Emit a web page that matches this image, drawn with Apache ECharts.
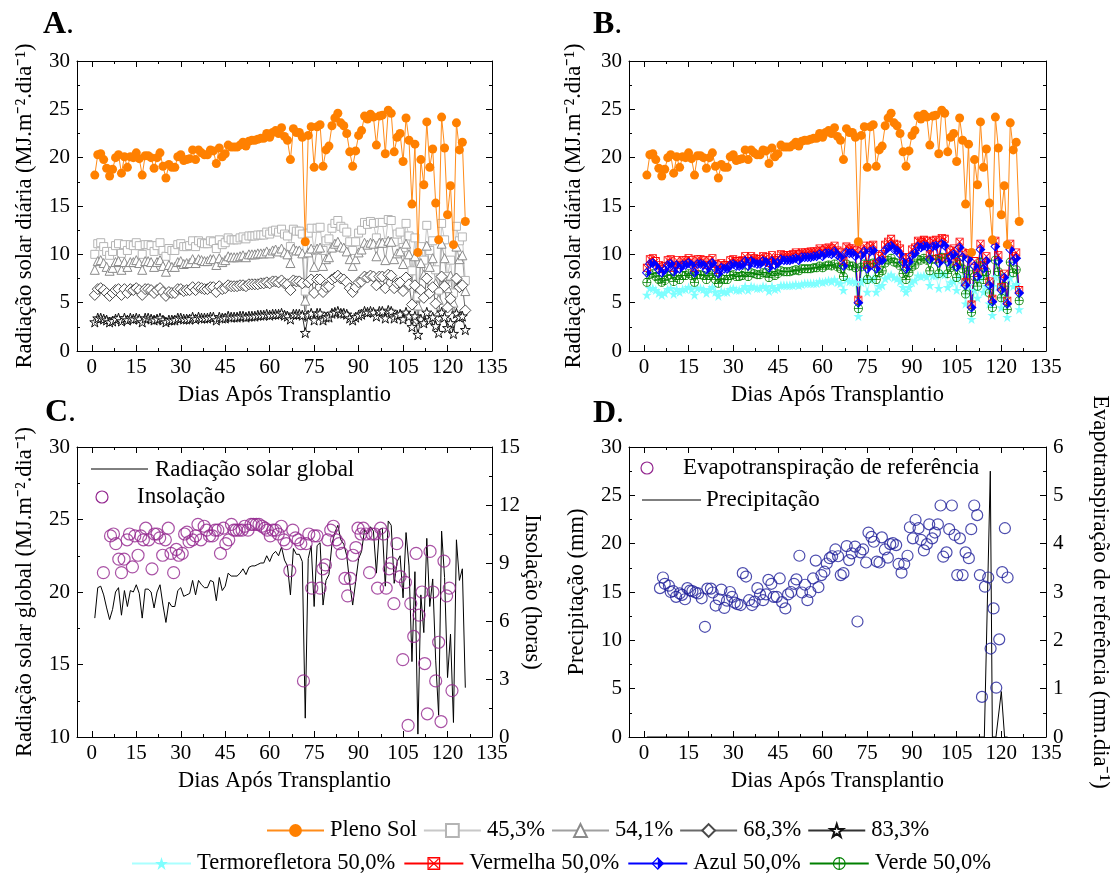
<!DOCTYPE html>
<html><head><meta charset="utf-8">
<script src="https://cdn.jsdelivr.net/npm/echarts@6/dist/echarts.min.js"></script>
<style>html,body{margin:0;padding:0;background:#fff}#c{width:1112px;height:876px}</style>
</head><body><div id="c"></div>
<script>
const days = [1,2,3,4,5,6,7,8,9,10,11,12,13,14,15,16,17,18,19,20,21,22,23,24,25,26,27,28,29,30,31,32,33,34,35,36,37,38,39,40,41,42,43,44,45,46,47,48,49,50,51,52,53,54,55,56,57,58,59,60,61,62,63,64,65,66,67,68,69,70,71,72,73,74,75,76,77,78,79,80,81,82,83,84,85,86,87,88,89,90,91,92,93,94,95,96,97,98,99,100,101,102,103,104,105,106,107,108,109,110,111,112,113,114,115,116,117,118,119,120,121,122,123,124,125,126];
const plenoSol = [18.2,20.3,20.4,19.8,18.9,18.1,18.8,20.0,20.3,18.4,20.1,19.0,20.1,20.0,20.5,19.9,18.2,20.2,20.2,20.0,18.9,20.0,20.5,19.1,17.9,19.3,19.0,19.0,20.1,20.3,19.7,19.8,19.9,20.8,19.8,20.8,20.5,20.3,20.3,20.8,20.7,19.4,21.0,20.1,20.4,21.3,21.1,21.1,21.1,21.3,21.6,21.2,21.7,21.8,21.8,21.9,22.0,22.0,22.5,22.1,22.6,22.8,22.5,23.1,22.2,21.8,19.8,23.0,22.6,22.6,22.1,11.3,22.3,23.2,19.0,23.2,23.4,19.1,20.8,21.2,23.3,24.1,24.6,23.6,23.3,22.5,20.6,19.1,20.7,22.3,22.8,24.3,24.0,24.5,24.2,21.3,24.3,24.4,20.4,24.9,24.6,20.6,22.1,22.5,19.6,24.1,21.8,15.2,21.4,10.2,19.8,17.2,23.7,19.0,20.9,15.3,11.5,24.2,21.0,14.1,17.1,11.0,23.6,20.8,21.6,13.4];
const s453 = [10.0,11.1,11.2,10.8,10.3,9.9,10.3,10.9,11.1,10.1,11.0,10.4,11.0,10.9,11.2,10.9,10.0,11.0,11.0,10.9,10.3,10.9,11.2,10.4,9.8,10.6,10.4,10.4,11.0,11.1,10.8,10.8,10.9,11.4,10.8,11.4,11.2,11.1,11.1,11.4,11.3,10.6,11.5,11.0,11.2,11.7,11.5,11.5,11.5,11.7,11.8,11.6,11.9,11.9,11.9,12.0,12.0,12.0,12.3,12.1,12.4,12.5,12.3,12.6,12.1,11.9,10.8,12.6,12.4,12.4,12.1,6.2,12.2,12.7,10.4,12.7,12.8,10.4,11.4,11.6,12.7,13.2,13.5,12.9,12.7,12.3,11.3,10.4,11.3,12.2,12.5,13.3,13.1,13.4,13.2,11.7,13.3,13.3,11.2,13.6,13.5,11.3,12.1,12.3,10.7,13.2,11.9,8.3,11.7,5.6,10.8,9.4,13.0,10.4,11.4,8.4,6.3,13.2,11.5,7.7,9.4,6.0,12.9,11.4,11.8,7.3];
const s541 = [8.4,9.3,9.4,9.1,8.7,8.3,8.6,9.2,9.3,8.4,9.2,8.7,9.2,9.2,9.4,9.1,8.4,9.3,9.3,9.2,8.7,9.2,9.4,8.8,8.2,8.9,8.7,8.7,9.2,9.3,9.0,9.1,9.1,9.5,9.1,9.5,9.4,9.3,9.3,9.5,9.5,8.9,9.6,9.2,9.4,9.8,9.7,9.7,9.7,9.8,9.9,9.7,10.0,10.0,10.0,10.1,10.1,10.1,10.3,10.1,10.4,10.5,10.3,10.6,10.2,10.0,9.1,10.6,10.4,10.4,10.1,5.2,10.2,10.6,8.7,10.6,10.7,8.8,9.5,9.7,10.7,11.1,11.3,10.8,10.7,10.3,9.5,8.8,9.5,10.2,10.5,11.2,11.0,11.2,11.1,9.8,11.2,11.2,9.4,11.4,11.3,9.5,10.1,10.3,9.0,11.1,10.0,7.0,9.8,4.7,9.1,7.9,10.9,8.7,9.6,7.0,5.3,11.1,9.6,6.5,7.8,5.0,10.8,9.5,9.9,6.2];
const s683 = [5.8,6.4,6.5,6.3,6.0,5.7,6.0,6.3,6.4,5.8,6.4,6.0,6.4,6.3,6.5,6.3,5.8,6.4,6.4,6.3,6.0,6.3,6.5,6.1,5.7,6.1,6.0,6.0,6.4,6.4,6.2,6.3,6.3,6.6,6.3,6.6,6.5,6.4,6.4,6.6,6.6,6.1,6.7,6.4,6.5,6.8,6.7,6.7,6.7,6.8,6.8,6.7,6.9,6.9,6.9,6.9,7.0,7.0,7.1,7.0,7.2,7.2,7.1,7.3,7.0,6.9,6.3,7.3,7.2,7.2,7.0,3.6,7.1,7.4,6.0,7.4,7.4,6.1,6.6,6.7,7.4,7.6,7.8,7.5,7.4,7.1,6.5,6.1,6.6,7.1,7.2,7.7,7.6,7.8,7.7,6.8,7.7,7.7,6.5,7.9,7.8,6.5,7.0,7.1,6.2,7.6,6.9,4.8,6.8,3.2,6.3,5.5,7.5,6.0,6.6,4.9,3.6,7.7,6.7,4.5,5.4,3.5,7.5,6.6,6.8,4.2];
const s833 = [3.0,3.4,3.4,3.3,3.2,3.0,3.1,3.3,3.4,3.1,3.4,3.2,3.4,3.3,3.4,3.3,3.0,3.4,3.4,3.3,3.2,3.3,3.4,3.2,3.0,3.2,3.2,3.2,3.4,3.4,3.3,3.3,3.3,3.5,3.3,3.5,3.4,3.4,3.4,3.5,3.5,3.2,3.5,3.4,3.4,3.6,3.5,3.5,3.5,3.6,3.6,3.5,3.6,3.6,3.6,3.7,3.7,3.7,3.8,3.7,3.8,3.8,3.8,3.9,3.7,3.6,3.3,3.8,3.8,3.8,3.7,1.9,3.7,3.9,3.2,3.9,3.9,3.2,3.5,3.5,3.9,4.0,4.1,3.9,3.9,3.8,3.4,3.2,3.5,3.7,3.8,4.1,4.0,4.1,4.0,3.6,4.1,4.1,3.4,4.2,4.1,3.4,3.7,3.8,3.3,4.0,3.6,2.5,3.6,1.7,3.3,2.9,4.0,3.2,3.5,2.6,1.9,4.0,3.5,2.4,2.9,1.8,3.9,3.5,3.6,2.2];
const termo = [5.8,6.5,6.5,6.3,6.0,5.8,6.0,6.4,6.5,5.9,6.4,6.1,6.4,6.4,6.6,6.4,5.8,6.5,6.5,6.4,6.0,6.4,6.6,6.1,5.7,6.2,6.1,6.1,6.4,6.5,6.3,6.3,6.4,6.7,6.3,6.7,6.6,6.5,6.5,6.7,6.6,6.2,6.7,6.4,6.5,6.8,6.8,6.8,6.8,6.8,6.9,6.8,6.9,7.0,7.0,7.0,7.0,7.0,7.2,7.1,7.2,7.3,7.2,7.4,7.1,7.0,6.3,7.4,7.2,7.2,7.1,3.6,7.1,7.4,6.1,7.4,7.5,6.1,6.7,6.8,7.5,7.7,7.9,7.6,7.5,7.2,6.6,6.1,6.6,7.1,7.3,7.8,7.7,7.8,7.7,6.8,7.8,7.8,6.5,8.0,7.9,6.6,7.1,7.2,6.3,7.7,7.0,4.9,6.8,3.3,6.3,5.5,7.6,6.1,6.7,4.9,3.7,7.7,6.7,4.5,5.5,3.5,7.6,6.7,6.9,4.3];
const vermelha = [8.6,9.5,9.6,9.3,8.9,8.5,8.8,9.4,9.5,8.6,9.4,8.9,9.4,9.4,9.6,9.4,8.6,9.5,9.5,9.4,8.9,9.4,9.6,9.0,8.4,9.1,8.9,8.9,9.4,9.5,9.3,9.3,9.4,9.8,9.3,9.8,9.6,9.5,9.5,9.8,9.7,9.1,9.9,9.4,9.6,10.0,9.9,9.9,9.9,10.0,10.2,10.0,10.2,10.2,10.2,10.3,10.3,10.3,10.6,10.4,10.6,10.7,10.6,10.9,10.4,10.2,9.3,10.8,10.6,10.6,10.4,5.3,10.5,10.9,8.9,10.9,11.0,9.0,9.8,10.0,11.0,11.3,11.6,11.1,11.0,10.6,9.7,9.0,9.7,10.5,10.7,11.4,11.3,11.5,11.4,10.0,11.4,11.5,9.6,11.7,11.6,9.7,10.4,10.6,9.2,11.3,10.2,7.1,10.1,4.8,9.3,8.1,11.1,8.9,9.8,7.2,5.4,11.4,9.9,6.6,8.0,5.2,11.1,9.8,10.2,6.3];
const azul = [8.1,9.0,9.1,8.8,8.4,8.1,8.4,8.9,9.0,8.2,8.9,8.5,8.9,8.9,9.1,8.9,8.1,9.0,9.0,8.9,8.4,8.9,9.1,8.5,8.0,8.6,8.5,8.5,8.9,9.0,8.8,8.8,8.9,9.3,8.8,9.3,9.1,9.0,9.0,9.3,9.2,8.6,9.3,8.9,9.1,9.5,9.4,9.4,9.4,9.5,9.6,9.4,9.7,9.7,9.7,9.7,9.8,9.8,10.0,9.8,10.1,10.1,10.0,10.3,9.9,9.7,8.8,10.2,10.1,10.1,9.8,5.0,9.9,10.3,8.5,10.3,10.4,8.5,9.3,9.4,10.4,10.7,10.9,10.5,10.4,10.0,9.2,8.5,9.2,9.9,10.1,10.8,10.7,10.9,10.8,9.5,10.8,10.9,9.1,11.1,10.9,9.2,9.8,10.0,8.7,10.7,9.7,6.8,9.5,4.5,8.8,7.7,10.5,8.5,9.3,6.8,5.1,10.8,9.3,6.3,7.6,4.9,10.5,9.3,9.6,6.0];
const verde = [7.1,7.9,8.0,7.7,7.4,7.1,7.3,7.8,7.9,7.2,7.8,7.4,7.8,7.8,8.0,7.8,7.1,7.9,7.9,7.8,7.4,7.8,8.0,7.4,7.0,7.5,7.4,7.4,7.8,7.9,7.7,7.7,7.8,8.1,7.7,8.1,8.0,7.9,7.9,8.1,8.1,7.6,8.2,7.8,8.0,8.3,8.2,8.2,8.2,8.3,8.4,8.3,8.5,8.5,8.5,8.5,8.6,8.6,8.8,8.6,8.8,8.9,8.8,9.0,8.7,8.5,7.7,9.0,8.8,8.8,8.6,4.4,8.7,9.0,7.4,9.0,9.1,7.4,8.1,8.3,9.1,9.4,9.6,9.2,9.1,8.8,8.0,7.4,8.1,8.7,8.9,9.5,9.4,9.6,9.4,8.3,9.5,9.5,8.0,9.7,9.6,8.0,8.6,8.8,7.6,9.4,8.5,5.9,8.3,4.0,7.7,6.7,9.2,7.4,8.2,6.0,4.5,9.4,8.2,5.5,6.7,4.3,9.2,8.1,8.4,5.2];
const insolDays = [3.9,6.3,7.3,8.1,9.1,10.0,10.9,11.9,12.7,13.7,14.5,15.6,16.5,17.4,18.2,19.2,20.3,21.1,22.0,22.9,23.9,24.8,25.8,26.7,27.6,28.5,29.3,30.5,31.3,32.1,32.8,34.0,35.0,35.8,36.8,37.9,38.7,39.7,40.7,41.6,42.5,43.4,44.4,45.2,46.2,47.1,47.9,48.7,49.7,50.7,51.6,52.7,53.7,54.5,55.5,56.4,57.4,58.4,59.2,60.2,61.1,62.0,62.9,63.9,64.8,65.6,66.8,67.8,68.7,69.6,70.5,71.4,72.3,73.2,74.2,75.0,76.0,77.0,77.9,78.8,79.6,80.6,81.5,82.5,83.4,84.4,85.4,86.3,87.2,88.1,89.1,89.8,90.8,91.6,92.5,93.7,94.5,95.5,96.4,97.4,98.4,99.3,100.3,101.1,101.9,102.9,104.0,104.9,105.8,106.7,107.6,108.6,109.4,110.4,111.4,112.3,113.2,114.1,115.1,116.0,117.0,117.8,118.8,119.7,120.6,121.5];
const insolacao = [8.5,10.4,10.5,10.0,9.2,8.5,9.2,10.2,10.5,8.8,10.4,9.4,10.4,10.2,10.8,10.2,8.7,10.5,10.5,10.3,9.4,10.2,10.8,9.5,8.5,9.7,9.4,9.5,10.5,10.6,10.1,10.2,10.4,11.0,10.2,10.9,10.7,10.4,10.4,10.7,10.7,9.5,10.8,10.0,10.2,11.0,10.7,10.7,10.7,10.7,10.9,10.7,11.0,11.0,11.0,11.0,10.9,10.8,10.7,10.4,10.7,10.7,10.5,10.9,10.2,10.0,8.6,10.7,10.3,10.2,10.0,2.9,10.0,10.5,7.7,10.4,10.4,7.7,8.7,8.9,10.2,10.7,10.9,10.2,10.0,9.5,8.2,7.3,8.2,9.4,9.8,10.8,10.5,10.8,10.5,8.5,10.5,10.5,7.7,10.8,10.5,7.7,8.7,9.0,6.9,10.0,8.3,4.0,8.0,0.6,6.9,5.2,9.5,6.3,7.5,3.8,1.2,9.6,7.5,2.9,4.9,0.8,9.1,7.3,7.7,2.4];
const etDays = [5.4,6.4,7.0,8.4,9.0,9.8,10.8,12.0,12.8,13.8,14.6,15.5,16.3,17.3,18.2,19.4,20.5,21.3,22.5,23.1,24.1,25.2,26.0,27.0,27.9,28.9,29.6,30.5,31.4,32.5,33.2,34.3,35.3,36.3,37.2,38.1,39.0,40.0,41.0,41.8,42.8,43.6,44.6,45.6,46.4,47.5,48.4,49.4,50.4,51.2,52.2,53.1,54.1,54.9,55.9,56.8,57.7,58.6,59.6,60.6,61.4,62.4,63.2,64.3,65.2,66.1,67.0,68.1,68.9,69.8,70.9,71.7,72.7,73.6,74.6,75.4,76.4,77.2,78.2,79.1,79.9,80.9,81.9,82.7,83.6,84.7,85.5,86.5,87.4,88.5,89.3,90.3,91.2,92.2,93.0,94.0,95.0,95.8,96.8,97.7,98.7,99.6,100.5,101.6,102.5,103.4,104.3,105.2,106.1,107.0,108.0,109.1,109.9,110.9,111.9,112.8,113.5,114.5,115.6,116.4,117.4,118.3,119.3,120.3,121.2,122.1];
const et0 = [3.08,3.30,3.17,3.13,3.00,3.02,2.90,2.97,2.94,2.85,3.08,3.03,3.02,2.99,2.97,2.87,2.28,3.07,3.07,2.99,2.72,2.85,3.05,2.67,2.82,3.00,2.90,2.78,2.75,2.73,3.39,3.32,2.83,2.73,2.80,3.08,2.95,2.83,2.95,3.25,3.17,2.90,2.90,3.28,2.79,2.66,2.95,3.00,3.17,3.26,3.75,2.99,3.15,2.83,3.00,3.28,3.65,3.10,3.35,3.42,3.59,3.70,3.74,3.88,3.74,3.35,3.39,3.95,3.66,3.80,3.94,2.39,3.82,3.88,3.61,4.23,4.14,4.04,3.63,3.61,4.13,3.88,3.71,3.99,4.01,3.97,3.58,3.40,3.58,3.75,4.34,4.11,4.49,4.32,4.08,3.86,3.99,4.40,4.11,4.23,4.40,4.79,3.73,3.82,4.30,4.79,4.18,3.35,4.11,3.35,3.82,3.70,4.30,4.79,4.59,3.35,0.83,3.11,3.30,1.83,2.66,1.02,2.02,3.41,4.32,3.30];
const precDays = [1,114.3,116.3,117.0,118.2,120.0,121.1,122.1];
const precip = [0,0,27.5,0,0,4.7,0,0];
const xMajorTicks = [0,15,30,45,60,75,90,105,120,135];
const xMinorTicks = [7.5,22.5,37.5,52.5,67.5,82.5,97.5,112.5,127.5];

const FONT = 'Liberation Serif';
const pairs = (xs, ys) => xs.map((x, i) => [x, ys[i]]);
const STAR = 'path://M10,0 L12.35,7.1 L19.8,7.1 L13.8,11.5 L16.1,18.6 L10,14.2 L3.9,18.6 L6.2,11.5 L0.2,7.1 L7.65,7.1 Z';
const BOXX = 'path://M0,0 L20,0 L20,20 L0,20 Z M2,2 L2,18 L18,18 L18,2 Z M2,3.4 L3.4,2 L18,16.6 L16.6,18 Z M16.6,2 L18,3.4 L3.4,18 L2,16.6 Z';
const HALFDIA = 'path://M10,0 L20,10 L10,20 Z M10,0 L0,10 L10,20 L10,17.4 L2.6,10 L10,2.6 Z';
const OPLUS = 'path://M10,0 A10,10 0 1,1 10,20 A10,10 0 1,1 10,0 Z M10,1.8 A8.2,8.2 0 1,0 10,18.2 A8.2,8.2 0 1,0 10,1.8 Z M9.2,1.8 L10.8,1.8 L10.8,18.2 L9.2,18.2 Z M1.8,9.2 L18.2,9.2 L18.2,10.8 L1.8,10.8 Z';

const txt = {color:'#000', fontFamily:FONT, fontSize:22.5};
function xAxes(g){
  const base = {type:'value', gridIndex:g, min:-5, max:135, splitLine:{show:false}};
  const tick = (vals, len) => ({show:true, inside:true, length:len, customValues:vals, lineStyle:{color:'#000', width:1}});
  return [
    Object.assign({}, base, {position:'bottom', axisLine:{show:true, onZero:false, lineStyle:{color:'#000', width:1}},
      axisTick:tick(xMajorTicks, 6), axisLabel:{show:true, customValues:xMajorTicks, margin:6, color:'#000', fontFamily:FONT, fontSize:21},
      name:'Dias Após Transplantio', nameLocation:'middle', nameGap:33, nameMoveOverlap:false, nameTextStyle:txt}),
    Object.assign({}, base, {position:'bottom', axisLine:{show:false, onZero:false}, axisTick:tick(xMinorTicks, 3), axisLabel:{show:false}}),
    Object.assign({}, base, {position:'top', axisLine:{show:true, onZero:false, lineStyle:{color:'#000', width:1}}, axisTick:tick(xMajorTicks, 6), axisLabel:{show:false}}),
    Object.assign({}, base, {position:'top', axisLine:{show:false, onZero:false}, axisTick:tick(xMinorTicks, 3), axisLabel:{show:false}})
  ];
}
function yAxis(g, pos, min, max, interval, label, name, nameGap){
  return {type:'value', gridIndex:g, position:pos, min:min, max:max, interval:interval,
    splitLine:{show:false},
    axisLine:{show:true, onZero:false, lineStyle:{color:'#000', width:1}},
    axisTick:{show:true, inside:true, length:6, lineStyle:{color:'#000', width:1}},
    minorTick:{show:true, splitNumber:2, length:3, lineStyle:{color:'#000', width:1}},
    axisLabel:{show:label, margin:7, color:'#000', fontFamily:FONT, fontSize:21},
    name:name || '', nameLocation:'middle', nameGap:nameGap || 0, nameMoveOverlap:false,
    nameRotate: pos === 'right' ? -90 : 90, nameTextStyle:txt};
}
const RAD = 'Radiação solar diária (MJ.m⁻².dia⁻¹)';
const xs = [].concat(xAxes(0), xAxes(1), xAxes(2), xAxes(3));
const ys = [
  yAxis(0,'left',0,30,5,true,RAD,40), yAxis(0,'right',0,30,5,false),
  yAxis(1,'left',0,30,5,true,RAD,43), yAxis(1,'right',0,30,5,false),
  yAxis(2,'left',10,30,5,true,'Radiação solar global (MJ.m⁻².dia⁻¹)',40), yAxis(2,'right',0,15,3,true,'Insolação (horas)',28),
  yAxis(3,'left',0,30,5,true,'Precipitação (mm)',40), yAxis(3,'right',0,6,1,true,'Evapotranspiração de referência (mm.dia⁻¹)',42)
];

function lineSeries(name, xi, yi, ys_, symbol, size, fill, border, lineColor, z){
  return {type:'line', name:name, xAxisIndex:xi, yAxisIndex:yi, data:pairs(days, ys_),
    symbol:symbol, symbolSize:size, showAllSymbol:true,
    lineStyle:{color:lineColor, width:1},
    itemStyle:{color:fill, borderColor:border, borderWidth:border ? 1 : 0},
    emphasis:{disabled:true}, z:z};
}
const series = [
  lineSeries('45,3%',0,0,s453,'rect',8,'#fff','#b4b4b4','#c8c8c8',2),
  lineSeries('54,1%',0,0,s541,'triangle',9,'#fff','#8a8a8a','#a0a0a0',2),
  lineSeries('68,3%',0,0,s683,'diamond',11,'#fff','#4a4a4a','#6a6a6a',2),
  lineSeries('83,3%',0,0,s833,STAR,10,'#fff','#111','#333',2),
  lineSeries('Pleno Sol',0,0,plenoSol,'circle',9,'#ff8000',null,'#ff8c1a',3),
  lineSeries('Termorefletora 50,0%',4,2,termo,STAR,10,'#7fffff',null,'#aaffff',2),
  lineSeries('Verde 50,0%',4,2,verde,OPLUS,9,'#008000',null,'#008000',2),
  lineSeries('Vermelha 50,0%',4,2,vermelha,BOXX,8,'#ff0000',null,'#ff0000',2),
  lineSeries('Azul 50,0%',4,2,azul,HALFDIA,10,'#0000ff',null,'#0000ff',2),
  lineSeries('Pleno Sol',4,2,plenoSol,'circle',9,'#ff8000',null,'#ff8c1a',3),
  {type:'line', name:'Radiação solar global', xAxisIndex:8, yAxisIndex:4, data:pairs(days, plenoSol),
    symbol:'none', lineStyle:{color:'#000', width:1}, emphasis:{disabled:true}, z:2},
  {type:'scatter', name:'Insolação', xAxisIndex:8, yAxisIndex:5, data:pairs(insolDays, insolacao),
    symbol:'circle', symbolSize:12, itemStyle:{color:'rgba(255,255,255,0)', borderColor:'#93278f', borderWidth:1.2}, emphasis:{disabled:true}, z:3},
  {type:'scatter', name:'Evapotranspiração de referência', xAxisIndex:12, yAxisIndex:7, data:pairs(etDays, et0),
    symbol:'circle', symbolSize:11, itemStyle:{color:'rgba(255,255,255,0)', borderColor:'#1f1f9a', borderWidth:1.2}, emphasis:{disabled:true}, z:3},
  {type:'line', name:'Precipitação', xAxisIndex:12, yAxisIndex:6, data:pairs(precDays, precip),
    symbol:'none', lineStyle:{color:'#000', width:1}, emphasis:{disabled:true}, z:2}
];

const legendBase = {orient:'horizontal', padding:0, itemWidth:59, itemHeight:16, itemGap:8,
  textStyle:{color:'#000', fontFamily:FONT, fontSize:22.5, padding:[0,0,0,1]}, selectedMode:false};
const panelLabel = (t, x, y) => ({type:'text', x:x, y:y, style:{text:'{b|'+t+'}{n|.}', rich:{b:{font:'bold 32px "Liberation Serif"', fill:'#000'}, n:{font:'32px "Liberation Serif"', fill:'#000'}}, verticalAlign:'middle', align:'left'}});
const gText = (t, x, y) => ({type:'text', x:x, y:y, style:{text:t, font:'23px "Liberation Serif"', fill:'#000', verticalAlign:'middle', align:'left'}});

const option = {
  animation:false,
  backgroundColor:'#fff',
  grid:[
    {left:77, top:61, width:415, height:290, outerBoundsMode:'none', containLabel:false},
    {left:629, top:61, width:417, height:290, outerBoundsMode:'none', containLabel:false},
    {left:77, top:447, width:415, height:290, outerBoundsMode:'none', containLabel:false},
    {left:629, top:447, width:417, height:290, outerBoundsMode:'none', containLabel:false}
  ],
  xAxis: xs,
  yAxis: ys,
  legend:[
    Object.assign({}, legendBase, {left:266, top:819, itemWidth:57, itemGap:6, data:['Pleno Sol','45,3%','54,1%','68,3%','83,3%']}),
    Object.assign({}, legendBase, {left:131, top:852, data:['Termorefletora 50,0%','Vermelha 50,0%','Azul 50,0%','Verde 50,0%']})
  ],
  graphic:[
    panelLabel('A', 43, 25), panelLabel('B', 593, 25), panelLabel('C', 45, 413), panelLabel('D', 593, 414),
    {type:'line', shape:{x1:91, y1:469, x2:148, y2:469}, style:{stroke:'#000', lineWidth:1}},
    gText('Radiação solar global', 155, 470),
    {type:'circle', shape:{cx:102, cy:497, r:6}, style:{fill:'none', stroke:'#93278f', lineWidth:1.2}},
    gText('Insolação', 137, 497),
    {type:'circle', shape:{cx:647, cy:468, r:6}, style:{fill:'none', stroke:'#93278f', lineWidth:1.2}},
    gText('Evapotranspiração de referência', 683, 468),
    {type:'line', shape:{x1:642, y1:500, x2:701, y2:500}, style:{stroke:'#000', lineWidth:1}},
    gText('Precipitação', 706, 500)
  ],
  series: series
};
const chart = echarts.init(document.getElementById('c'), null, {renderer:'canvas'});
chart.setOption(option);
</script></body></html>
